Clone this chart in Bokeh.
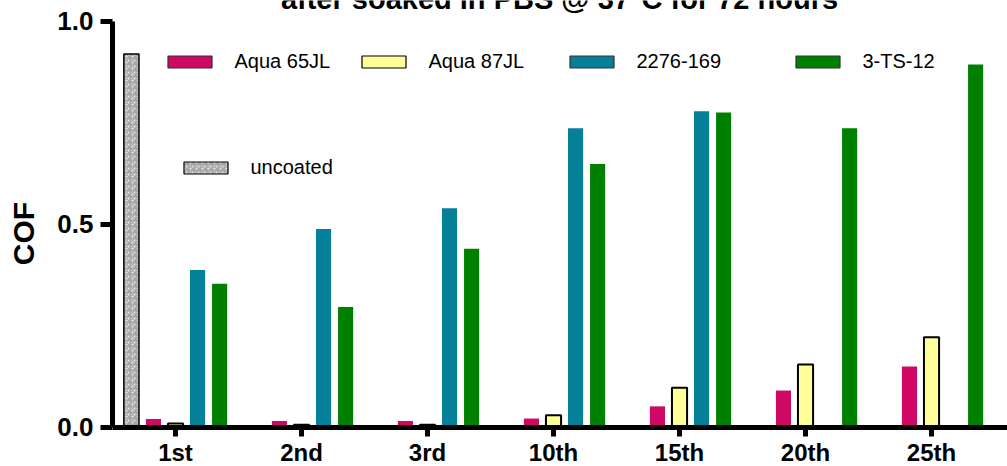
from bokeh.plotting import figure
from bokeh.models import Range1d, FixedTicker, Legend, LegendItem, Label, ColumnDataSource
from bokeh.transform import dodge
from bokeh.embed import file_html
from bokeh.resources import INLINE

# ---- data ----
cycles = ["1st", "2nd", "3rd", "10th", "15th", "20th", "25th"]
uncoated = [0.92]  # only measured at 1st
aqua_65jl = [0.021, 0.016, 0.016, 0.022, 0.052, 0.091, 0.150]
aqua_87jl = [0.010, 0.007, 0.007, 0.030, 0.098, 0.155, 0.222]
s2276_169 = [0.388, 0.489, 0.540, 0.737, 0.779, None, None]
ts3_12 = [0.354, 0.297, 0.440, 0.649, 0.776, 0.737, 0.894]
title_text = "after soaked in PBS @ 37°C for 72 hours"
y_label = "COF"

FONT = "Liberation Sans"
SLOT = 0.175
BW = 0.12

p = figure(width=1007, height=466, output_backend="svg", toolbar_location=None,
           x_range=Range1d(-0.5, 6.603), y_range=Range1d(-0.0961, 1.0517),
           min_border_left=112, min_border_right=0, min_border_top=0, min_border_bottom=0)
p.outline_line_color = None
p.xgrid.grid_line_color = None
p.ygrid.grid_line_color = None
p.background_fill_color = "white"


def src(vals, idx=None):
    xs, ys = [], []
    idx = idx if idx is not None else list(range(len(vals)))
    for i, v in zip(idx, vals):
        if v is None:
            continue
        xs.append(i)
        ys.append(v)
    return ColumnDataSource(dict(x=xs, top=ys))


series = [
    ("uncoated", src(uncoated, [0]), -2, dict(fill_color="#ececec", line_color="black", line_width=1.5,
                                              hatch_pattern="criss_cross", hatch_color="#a6a6a6",
                                              hatch_scale=6, hatch_weight=1.5)),
    ("Aqua 65JL", src(aqua_65jl), -1, dict(fill_color="#CF0863", line_color=None)),
    ("Aqua 87JL", src(aqua_87jl), 0, dict(fill_color="#FFFF99", line_color="black", line_width=2)),
    ("2276-169", src(s2276_169), 1, dict(fill_color="#067F99", line_color=None)),
    ("3-TS-12", src(ts3_12), 2, dict(fill_color="#008000", line_color=None)),
]

legend_renderers = {}
for name, s, off, style in series:
    xd = dodge("x", off * SLOT, range=p.x_range)
    p.vbar(x=xd, top="top", bottom=0, width=BW, source=s, **style)
    lstyle = dict(style)
    if lstyle.get("line_color") is None:
        lstyle["line_color"] = "#333333"
    lstyle["line_width"] = 1.2
    # legend-only renderer: zero-height bars hidden under the x axis line
    legend_renderers[name] = p.vbar(x=xd, top=0, bottom=0, width=BW, source=s, **lstyle)

# axes
for ax in (p.xaxis[0], p.yaxis[0]):
    ax.axis_line_width = 5
    ax.axis_line_color = "black"
    ax.major_tick_line_width = 5
    ax.major_tick_line_color = "black"
    ax.major_tick_in = 0
    ax.minor_tick_line_color = None
    ax.major_label_text_font = FONT
    ax.major_label_text_font_style = "bold"
    ax.major_label_text_color = "black"

p.xaxis.fixed_location = 0
p.xaxis.ticker = FixedTicker(ticks=list(range(len(cycles))))
p.xaxis.major_label_overrides = {i: c for i, c in enumerate(cycles)}
p.xaxis.major_tick_out = 9
p.xaxis.major_label_text_font_size = "24px"
p.xaxis.major_label_standoff = 3

p.yaxis.ticker = FixedTicker(ticks=[0, 0.5, 1.0])
p.yaxis.bounds = (0, 1.0)
p.yaxis.major_label_overrides = {0: "0.0", 0.5: "0.5", 1: "1.0"}
p.yaxis.major_tick_out = 12
p.yaxis.major_label_text_font_size = "26px"
p.yaxis.major_label_standoff = 7
p.yaxis.axis_label = y_label
p.yaxis.axis_label_text_font = FONT
p.yaxis.axis_label_text_font_style = "bold"
p.yaxis.axis_label_text_font_size = "30px"
p.yaxis.axis_label_text_color = "black"
p.yaxis.axis_label_standoff = 14

# legends (positions in screen px from the frame's bottom-left)
leg_pos = {"Aqua 65JL": (49.5, 393), "Aqua 87JL": (243.5, 393), "2276-169": (451.5, 393),
           "3-TS-12": (677.5, 393), "uncoated": (65.5, 287)}
for name, _, _, _ in series:
    lg = Legend(items=[LegendItem(label=name, renderers=[legend_renderers[name]])],
                location=leg_pos[name], glyph_width=55, glyph_height=15, label_standoff=18,
                label_text_font=FONT, label_text_font_size="20px", label_text_color="black",
                padding=0, margin=0, spacing=0, border_line_color=None, background_fill_alpha=0)
    p.add_layout(lg, "center")

p.add_layout(Label(x=447, y=468, x_units="screen", y_units="screen", text=title_text,
                   text_align="center", text_baseline="alphabetic", text_font=FONT,
                   text_font_style="bold", text_font_size="29px", text_color="black"))

open("out.html", "w").write(file_html(p, INLINE))
